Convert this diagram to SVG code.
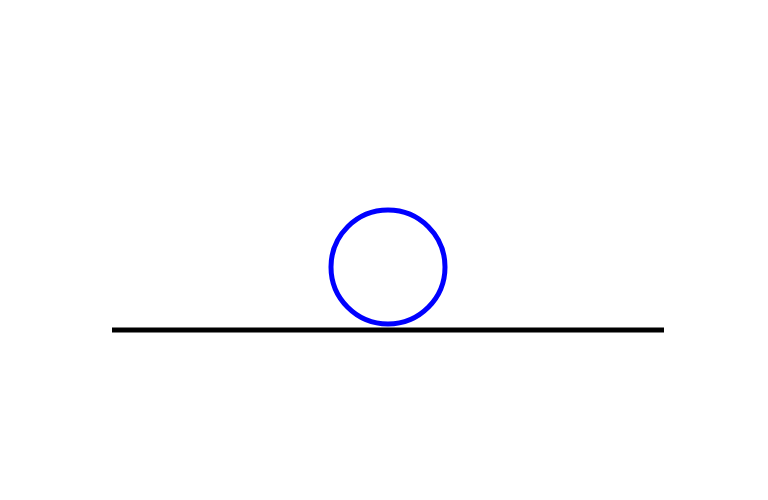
<svg xmlns="http://www.w3.org/2000/svg" width="768" height="500" viewBox="0 0 768 500">
<rect width="768" height="500" fill="#ffffff"/>
<line x1="112" y1="330" x2="664" y2="330" stroke="#000000" stroke-width="5"/>
<circle cx="388" cy="267" r="57" fill="none" stroke="#0000ff" stroke-width="5"/>
</svg>
